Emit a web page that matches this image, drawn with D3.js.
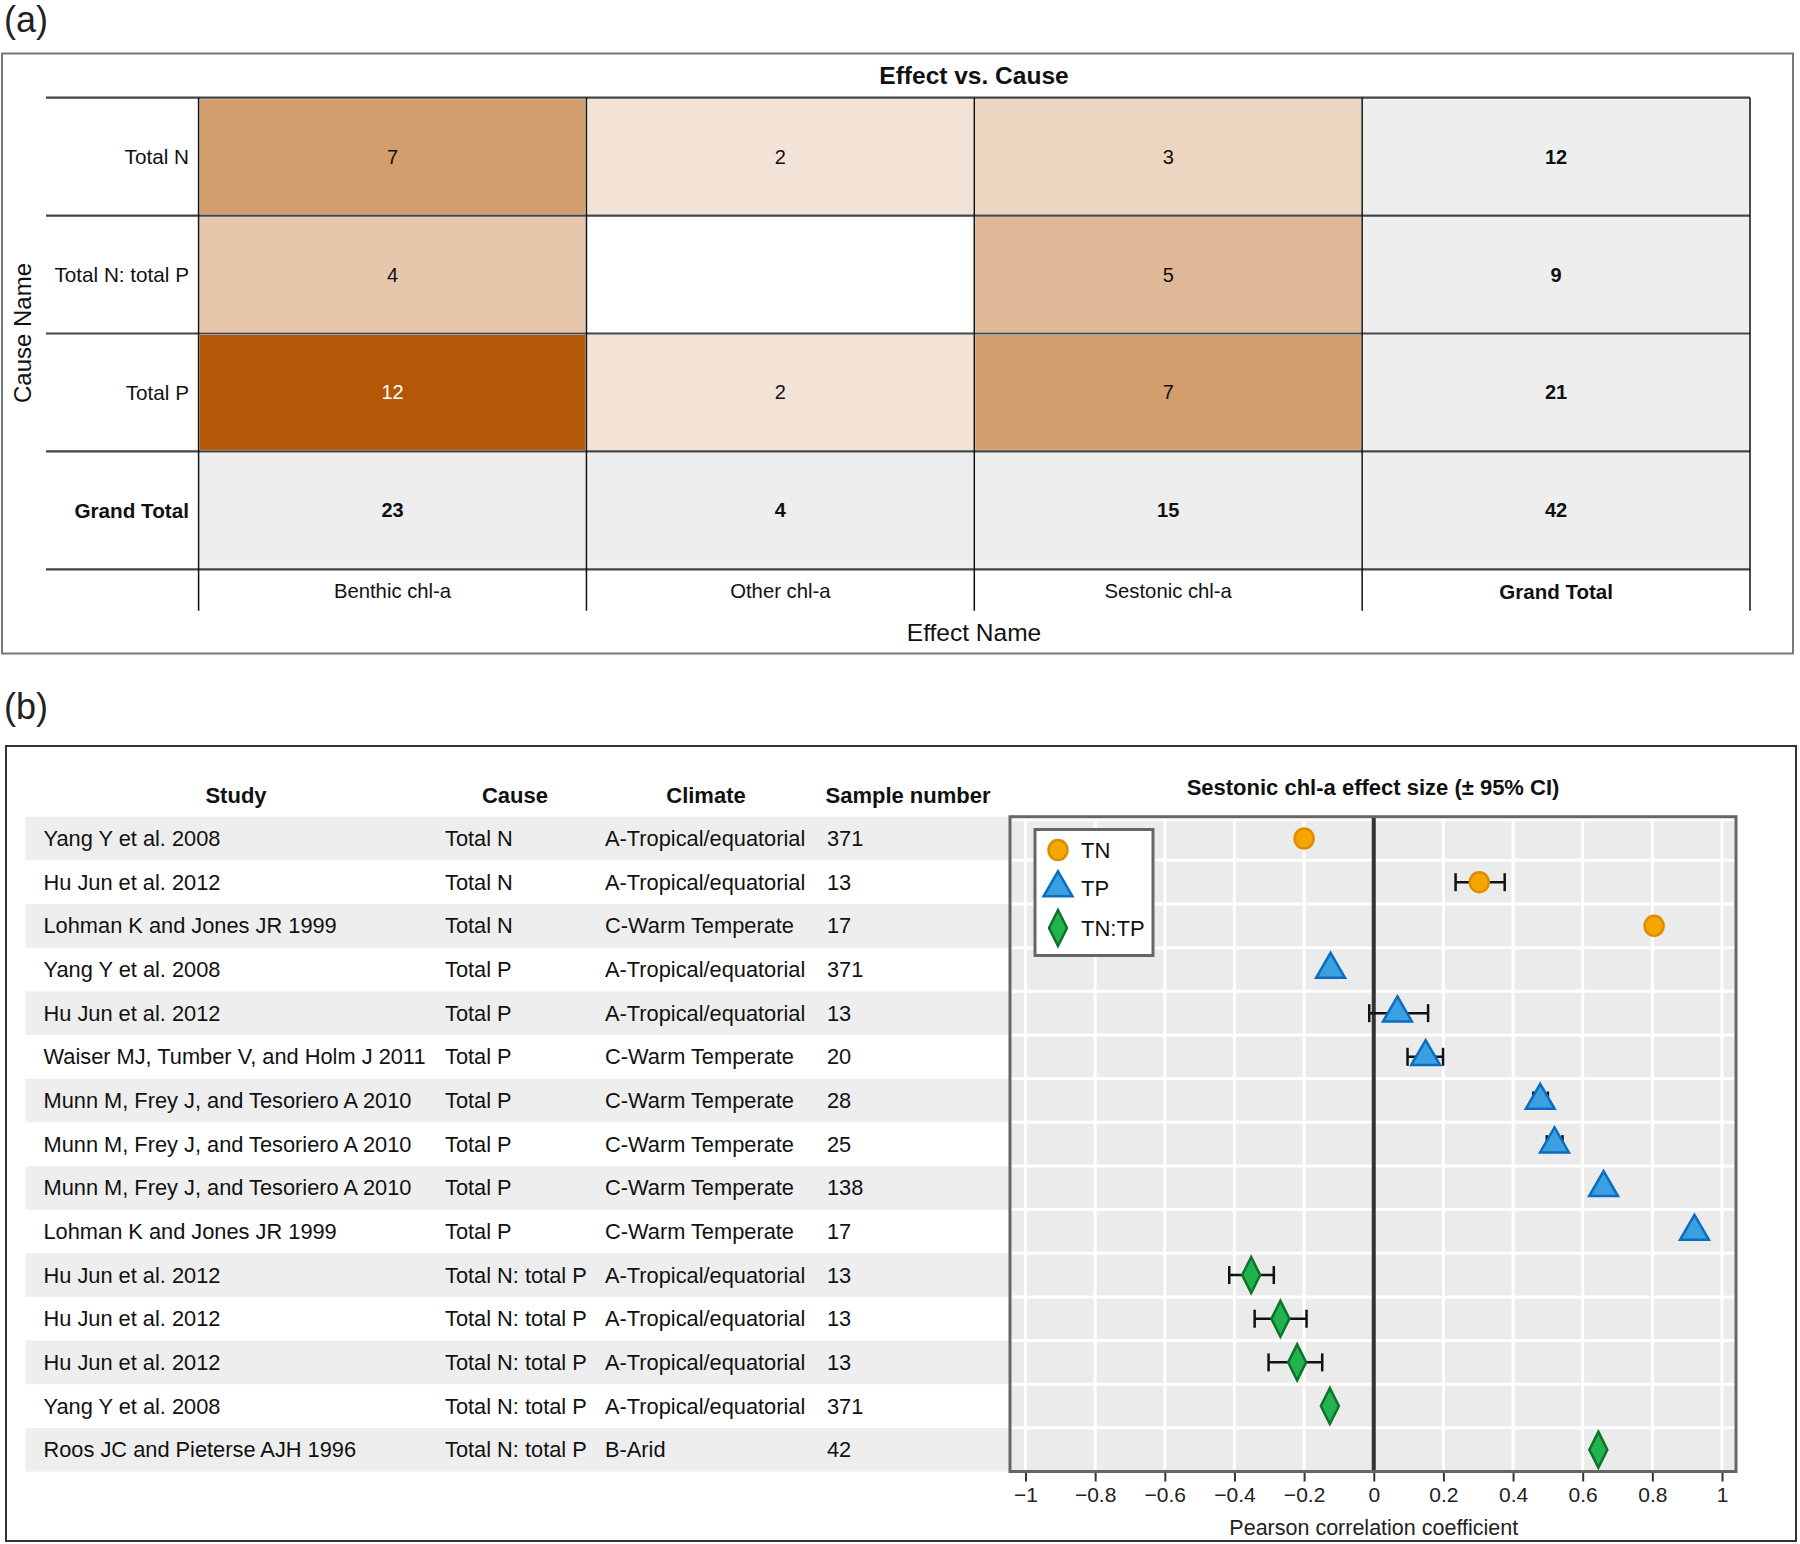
<!DOCTYPE html>
<html>
<head>
<meta charset="utf-8">
<script src="https://cdn.jsdelivr.net/npm/d3@7"></script>
<style>
  body { margin: 0; background: #fff; }
  svg { display: block; font-family: "Liberation Sans", Arial, sans-serif; }
</style>
</head>
<body>
<svg id="chart" width="1800" height="1544"></svg>
<script>
// ---- panel (a) data ----
const causes = ['Total N', 'Total N: total P', 'Total P']
const effects = ['Benthic chl-a', 'Other chl-a', 'Sestonic chl-a']
const countsTotalN = [7, 2, 3]
const countsTotalNP = [4, null, 5]
const countsTotalP = [12, 2, 7]
const rowTotals = [12, 9, 21]
const colTotals = [23, 4, 15]
const grandTotal = 42

// ---- panel (b) data ----
const studies = ['Yang Y et al. 2008', 'Hu Jun et al. 2012', 'Lohman K and Jones JR 1999',
  'Yang Y et al. 2008', 'Hu Jun et al. 2012', 'Waiser MJ, Tumber V, and Holm J 2011',
  'Munn M, Frey J, and Tesoriero A 2010', 'Munn M, Frey J, and Tesoriero A 2010',
  'Munn M, Frey J, and Tesoriero A 2010', 'Lohman K and Jones JR 1999',
  'Hu Jun et al. 2012', 'Hu Jun et al. 2012', 'Hu Jun et al. 2012',
  'Yang Y et al. 2008', 'Roos JC and Pieterse AJH 1996']
const studyCause = ['Total N', 'Total N', 'Total N', 'Total P', 'Total P', 'Total P', 'Total P',
  'Total P', 'Total P', 'Total P', 'Total N: total P', 'Total N: total P', 'Total N: total P',
  'Total N: total P', 'Total N: total P']
const climates = ['A-Tropical/equatorial', 'A-Tropical/equatorial', 'C-Warm Temperate',
  'A-Tropical/equatorial', 'A-Tropical/equatorial', 'C-Warm Temperate', 'C-Warm Temperate',
  'C-Warm Temperate', 'C-Warm Temperate', 'C-Warm Temperate', 'A-Tropical/equatorial',
  'A-Tropical/equatorial', 'A-Tropical/equatorial', 'A-Tropical/equatorial', 'B-Arid']
const samples = [371, 13, 17, 371, 13, 20, 28, 25, 138, 17, 13, 13, 13, 371, 42]
const groups = ['TN', 'TN', 'TN', 'TP', 'TP', 'TP', 'TP', 'TP', 'TP', 'TP',
  'TN:TP', 'TN:TP', 'TN:TP', 'TN:TP', 'TN:TP']
const effectSize = [-0.2, 0.303, 0.805, -0.124, 0.068, 0.149, 0.478, 0.519, 0.66, 0.921,
  -0.352, -0.268, -0.22, -0.126, 0.645]
const ciLow = [-0.2, 0.235, 0.805, -0.124, -0.013, 0.097, 0.458, 0.497, 0.66, 0.921,
  -0.415, -0.342, -0.302, -0.126, 0.645]
const ciHigh = [-0.2, 0.376, 0.805, -0.124, 0.156, 0.199, 0.500, 0.542, 0.66, 0.921,
  -0.287, -0.193, -0.148, -0.126, 0.645]
const xTicks = [-1, -0.8, -0.6, -0.4, -0.2, 0, 0.2, 0.4, 0.6, 0.8, 1]
const legendKeys = ['TN', 'TP', 'TN:TP']

const svg = d3.select('#chart')

// ================= panel (a) =================
svg.append('text').attr('x', 4).attr('y', 32).attr('font-size', 36).attr('fill', '#222').text('(a)')
svg.append('rect').attr('x', 2).attr('y', 53.5).attr('width', 1791).attr('height', 600)
  .attr('fill', 'none').attr('stroke', '#777').attr('stroke-width', 2)

const rowNames = causes.concat(['Grand Total'])
const colNames = effects.concat(['Grand Total'])
const matrix = [countsTotalN, countsTotalNP, countsTotalP]

const ax = d3.scaleBand().domain(colNames).range([198.6, 1750])
const ay = d3.scaleBand().domain(rowNames).range([97.7, 569.3])
const heat = d3.scaleLinear().domain([0, 12]).range(['#ffffff', '#b35806'])

const cells = []
causes.forEach((c, i) => {
  effects.forEach((e, j) => cells.push({ r: c, c: e, v: matrix[i][j], total: false }))
  cells.push({ r: c, c: 'Grand Total', v: rowTotals[i], total: true })
})
effects.forEach((e, j) => cells.push({ r: 'Grand Total', c: e, v: colTotals[j], total: true }))
cells.push({ r: 'Grand Total', c: 'Grand Total', v: grandTotal, total: true })

const ga = svg.append('g')
ga.selectAll('rect.cell').data(cells).join('rect')
  .attr('class', 'cell')
  .attr('x', d => ax(d.c) + 1).attr('y', d => ay(d.r) + 1.5)
  .attr('width', ax.bandwidth() - 2).attr('height', ay.bandwidth() - 3)
  .attr('fill', d => d.total ? '#eeeeee' : (d.v == null ? '#ffffff' : heat(d.v)))
ga.selectAll('text.val').data(cells.filter(d => d.v != null)).join('text')
  .attr('class', 'val')
  .attr('x', d => ax(d.c) + ax.bandwidth() / 2).attr('y', d => ay(d.r) + ay.bandwidth() / 2)
  .attr('text-anchor', 'middle').attr('dominant-baseline', 'central')
  .attr('font-size', 20).attr('font-weight', d => d.total ? 'bold' : 'normal')
  .attr('fill', d => (!d.total && d.v >= 10) ? '#ffffff' : '#111')
  .text(d => d.v)

// horizontal rules
ga.selectAll('line.h').data(d3.range(rowNames.length + 1)).join('line')
  .attr('x1', 46).attr('x2', 1750)
  .attr('y1', i => 97.7 + i * ay.step()).attr('y2', i => 97.7 + i * ay.step())
  .attr('stroke', '#444').attr('stroke-width', 2.2)
// vertical rules
ga.selectAll('line.v').data(d3.range(colNames.length + 1)).join('line')
  .attr('x1', i => 198.6 + i * ax.step()).attr('x2', i => 198.6 + i * ax.step())
  .attr('y1', 97.7).attr('y2', 610.7)
  .attr('stroke', '#111').attr('stroke-width', 1.5)

ga.selectAll('text.rl').data(rowNames).join('text')
  .attr('x', 189).attr('y', d => ay(d) + ay.bandwidth() / 2)
  .attr('text-anchor', 'end').attr('dominant-baseline', 'central')
  .attr('font-size', 20.7).attr('font-weight', d => d === 'Grand Total' ? 'bold' : 'normal')
  .attr('fill', '#111').text(d => d)
ga.selectAll('text.cl').data(colNames).join('text')
  .attr('x', d => ax(d) + ax.bandwidth() / 2).attr('y', 591)
  .attr('text-anchor', 'middle').attr('dominant-baseline', 'central')
  .attr('font-size', d => d === 'Grand Total' ? 20.5 : 20.3)
  .attr('font-weight', d => d === 'Grand Total' ? 'bold' : 'normal')
  .attr('fill', '#111').text(d => d)

ga.append('text').attr('x', 974).attr('y', 75).attr('text-anchor', 'middle')
  .attr('dominant-baseline', 'central').attr('font-size', 24.5).attr('font-weight', 'bold')
  .attr('fill', '#111').text('Effect vs. Cause')
ga.append('text').attr('x', 974).attr('y', 632).attr('text-anchor', 'middle')
  .attr('dominant-baseline', 'central').attr('font-size', 24.5).attr('fill', '#111').text('Effect Name')
ga.append('text').attr('transform', 'translate(22,333) rotate(-90)').attr('text-anchor', 'middle')
  .attr('dominant-baseline', 'central').attr('font-size', 24).attr('fill', '#111').text('Cause Name')

// ================= panel (b) =================
svg.append('text').attr('x', 4).attr('y', 719).attr('font-size', 36).attr('fill', '#222').text('(b)')
svg.append('rect').attr('x', 6).attr('y', 746).attr('width', 1790).attr('height', 795)
  .attr('fill', 'none').attr('stroke', '#333').attr('stroke-width', 2)

const gb = svg.append('g')
const idx = d3.range(studies.length)
const by = d3.scaleBand().domain(idx).range([816.7, 1471.5])
const bx = d3.scaleLinear().domain([-1, 1]).range([1025.5, 1722])
const panelL = 1010, panelR = 1736, panelT = 816.7, panelB = 1471.5

// stripes
gb.selectAll('rect.stripe').data(idx.filter(i => i % 2 === 0)).join('rect')
  .attr('x', 25.5).attr('y', i => by(i)).attr('width', panelL - 25.5).attr('height', by.bandwidth())
  .attr('fill', '#eeeeee')

const headers = [['Study', 236], ['Cause', 515], ['Climate', 706], ['Sample number', 908]]
gb.selectAll('text.hd').data(headers).join('text')
  .attr('x', d => d[1]).attr('y', 795).attr('text-anchor', 'middle').attr('dominant-baseline', 'central')
  .attr('font-size', 22).attr('font-weight', 'bold').attr('fill', '#111').text(d => d[0])

const columns = [[studies, 43.5], [studyCause, 445], [climates, 605], [samples, 827]]
columns.forEach(([arr, x]) => {
  gb.append('g').selectAll('text').data(idx).join('text')
    .attr('x', x).attr('y', i => by(i) + by.bandwidth() / 2)
    .attr('dominant-baseline', 'central').attr('font-size', 21.8).attr('fill', '#111')
    .text(i => arr[i])
})

// plot panel
gb.append('rect').attr('x', panelL).attr('y', panelT).attr('width', panelR - panelL)
  .attr('height', panelB - panelT).attr('fill', '#ebebeb')
gb.selectAll('line.gx').data(xTicks.filter(d => d !== 0)).join('line')
  .attr('x1', d => bx(d)).attr('x2', d => bx(d)).attr('y1', panelT).attr('y2', panelB)
  .attr('stroke', '#ffffff').attr('stroke-width', 3)
gb.selectAll('line.gy').data(d3.range(studies.length + 1)).join('line')
  .attr('x1', panelL).attr('x2', panelR)
  .attr('y1', i => panelT + i * by.step() + (i === 0 ? 3 : 0))
  .attr('y2', i => panelT + i * by.step() + (i === 0 ? 3 : 0))
  .attr('stroke', '#ffffff').attr('stroke-width', 3)
gb.append('line').attr('x1', bx(0)).attr('x2', bx(0)).attr('y1', panelT).attr('y2', panelB)
  .attr('stroke', '#333').attr('stroke-width', 4)

// axis
const axisG = gb.append('g').attr('transform', `translate(0,${panelB})`)
  .call(d3.axisBottom(bx).tickValues(xTicks).tickSize(10).tickPadding(6)
    .tickFormat(d => d3.format('')(d).replace('-', '\u2212')))
axisG.select('.domain').remove()
axisG.selectAll('.tick line').attr('stroke', '#333').attr('stroke-width', 2)
axisG.selectAll('.tick text').attr('font-size', 21).attr('fill', '#222')
  .attr('font-family', '"Liberation Sans", Arial, sans-serif')

gb.append('text').attr('x', bx(0)).attr('y', 1528).attr('text-anchor', 'middle')
  .attr('dominant-baseline', 'central').attr('font-size', 21.5).attr('fill', '#222')
  .text('Pearson correlation coefficient')
gb.append('text').attr('x', 1373).attr('y', 787).attr('text-anchor', 'middle')
  .attr('dominant-baseline', 'central').attr('font-size', 22).attr('font-weight', 'bold')
  .attr('fill', '#111').text('Sestonic chl-a effect size (\u00b1 95% CI)')

// error bars
const eb = gb.append('g').attr('stroke', '#111').attr('stroke-width', 2.5)
idx.filter(i => ciHigh[i] > ciLow[i]).forEach(i => {
  const cy = by(i) + by.bandwidth() / 2
  eb.append('line').attr('x1', bx(ciLow[i])).attr('x2', bx(ciHigh[i])).attr('y1', cy).attr('y2', cy)
  eb.append('line').attr('x1', bx(ciLow[i])).attr('x2', bx(ciLow[i])).attr('y1', cy - 9).attr('y2', cy + 9)
  eb.append('line').attr('x1', bx(ciHigh[i])).attr('x2', bx(ciHigh[i])).attr('y1', cy - 9).attr('y2', cy + 9)
})

// markers
const markerStyle = {
  'TN': { fill: '#f6a600', stroke: '#dc8d00' },
  'TP': { fill: '#3ba0e2', stroke: '#0b6cc1' },
  'TN:TP': { fill: '#22b24f', stroke: '#0a7428' }
}
function drawMarker(g, key) {
  const st = markerStyle[key]
  if (key === 'TN') {
    g.append('ellipse').attr('rx', 9.5).attr('ry', 10).attr('fill', st.fill)
      .attr('stroke', st.stroke).attr('stroke-width', 2.5)
  } else if (key === 'TP') {
    g.append('path').attr('d', d3.symbol(d3.symbolTriangle, 360)())
      .attr('fill', st.fill).attr('stroke', st.stroke).attr('stroke-width', 2.5)
  } else {
    g.append('path').attr('d', 'M0,-18L9,0L0,18L-9,0Z')
      .attr('fill', st.fill).attr('stroke', st.stroke).attr('stroke-width', 2.5)
  }
}
idx.forEach(i => {
  const g = gb.append('g')
    .attr('transform', `translate(${bx(effectSize[i])},${by(i) + by.bandwidth() / 2})`)
  drawMarker(g, groups[i])
})

// panel border
gb.append('rect').attr('x', panelL).attr('y', panelT).attr('width', panelR - panelL)
  .attr('height', panelB - panelT).attr('fill', 'none').attr('stroke', '#666').attr('stroke-width', 3)

// legend
const lg = gb.append('g')
lg.append('rect').attr('x', 1035).attr('y', 829.5).attr('width', 118).attr('height', 126)
  .attr('fill', '#ffffff').attr('stroke', '#666').attr('stroke-width', 3)
const legendY = [850, 888, 928]
legendKeys.forEach((k, i) => {
  const g = lg.append('g').attr('transform', `translate(1058,${legendY[i]})`)
  drawMarker(g, k)
  lg.append('text').attr('x', 1081).attr('y', legendY[i]).attr('dominant-baseline', 'central')
    .attr('font-size', 22).attr('fill', '#111').text(k)
})
</script>
</body>
</html>
